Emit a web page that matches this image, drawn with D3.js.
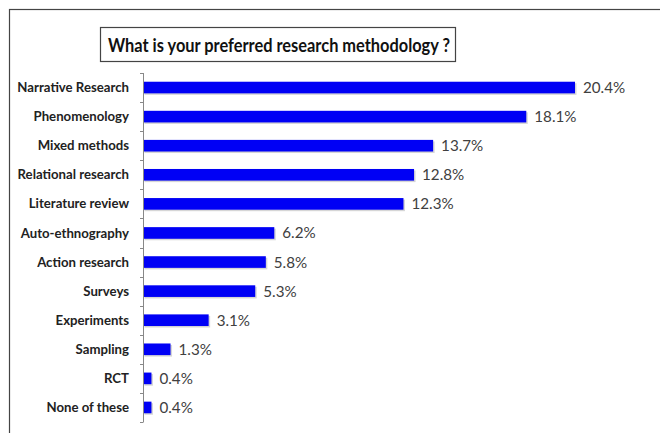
<!DOCTYPE html>
<html><head><meta charset="utf-8">
<script src="https://cdn.jsdelivr.net/npm/d3@7"></script>
<style>body{margin:0;background:#fff}svg{display:block}</style>
</head><body>
<svg id="c" width="660" height="433"></svg>
<script>
const categories = ["Narrative Research","Phenomenology","Mixed methods","Relational research","Literature review","Auto-ethnography","Action research","Surveys","Experiments","Sampling","RCT","None of these"];
const values = [20.4,18.1,13.7,12.8,12.3,6.2,5.8,5.3,3.1,1.3,0.4,0.4];
const labels = ["20.4%","18.1%","13.7%","12.8%","12.3%","6.2%","5.8%","5.3%","3.1%","1.3%","0.4%","0.4%"];
const title = "What is your preferred research methodology ?";

const svg = d3.select("#c");
// outer frame
svg.append("rect").attr("x",9.5).attr("y",9.5).attr("width",700).attr("height",500)
  .attr("fill","#fff").attr("stroke","#444").attr("stroke-width",1.2);

// title box
svg.append("rect").attr("x",100.5).attr("y",27.5).attr("width",355).attr("height",34)
  .attr("fill","#fff").attr("stroke","#444").attr("stroke-width",1.2);
svg.append("text").attr("x",279).attr("y",51.5).attr("text-anchor","middle")
  .attr("font-family","Lato, 'Open Sans', sans-serif").attr("font-weight","bold")
  .attr("font-size",19).attr("textLength",342).attr("lengthAdjust","spacingAndGlyphs")
  .attr("fill","#111").text(title);

const x = d3.scaleLinear().domain([0,20.4]).range([143,575]);
const y = d3.scaleBand().domain(categories).range([73,422]).paddingInner(0.6).paddingOuter(0.3);

// shadows
svg.append("g").selectAll("rect").data(values).join("rect")
  .attr("x",x(0)+1.5).attr("y",(d,i)=>y(categories[i])+1.5)
  .attr("width",d=>x(d)-x(0)).attr("height",y.bandwidth())
  .attr("fill","#bbb").attr("opacity",0.6);
// bars
svg.append("g").selectAll("rect").data(values).join("rect")
  .attr("x",x(0)).attr("y",(d,i)=>y(categories[i]))
  .attr("width",d=>x(d)-x(0)).attr("height",y.bandwidth())
  .attr("fill","#0000f5");

// axis line and ticks
const ax = svg.append("g").attr("stroke","#888").attr("stroke-width",1);
ax.append("line").attr("x1",143.5).attr("x2",143.5).attr("y1",73).attr("y2",422);
const tickYs = d3.range(categories.length+1).map(i=>73+i*(349/categories.length));
ax.selectAll("line.t").data(tickYs).join("line").attr("class","t")
  .attr("x1",140).attr("x2",143.5).attr("y1",d=>Math.round(d)+0.5).attr("y2",d=>Math.round(d)+0.5);

// category labels
svg.append("g").selectAll("text").data(categories).join("text")
  .attr("x",129).attr("y",d=>y(d)+y.bandwidth()/2).attr("dy","0.35em")
  .attr("text-anchor","end").attr("font-family","Lato, 'Open Sans', sans-serif")
  .attr("font-weight","bold").attr("font-size",13.2).attr("fill","#222").text(d=>d);

// value labels
svg.append("g").selectAll("text").data(values).join("text")
  .attr("x",d=>x(d)+8).attr("y",(d,i)=>y(categories[i])+y.bandwidth()/2).attr("dy","0.36em")
  .attr("font-family","Lato, 'Open Sans', sans-serif")
  .attr("font-size",15.2).attr("fill","#404040").text((d,i)=>labels[i]);
</script>
</body></html>
